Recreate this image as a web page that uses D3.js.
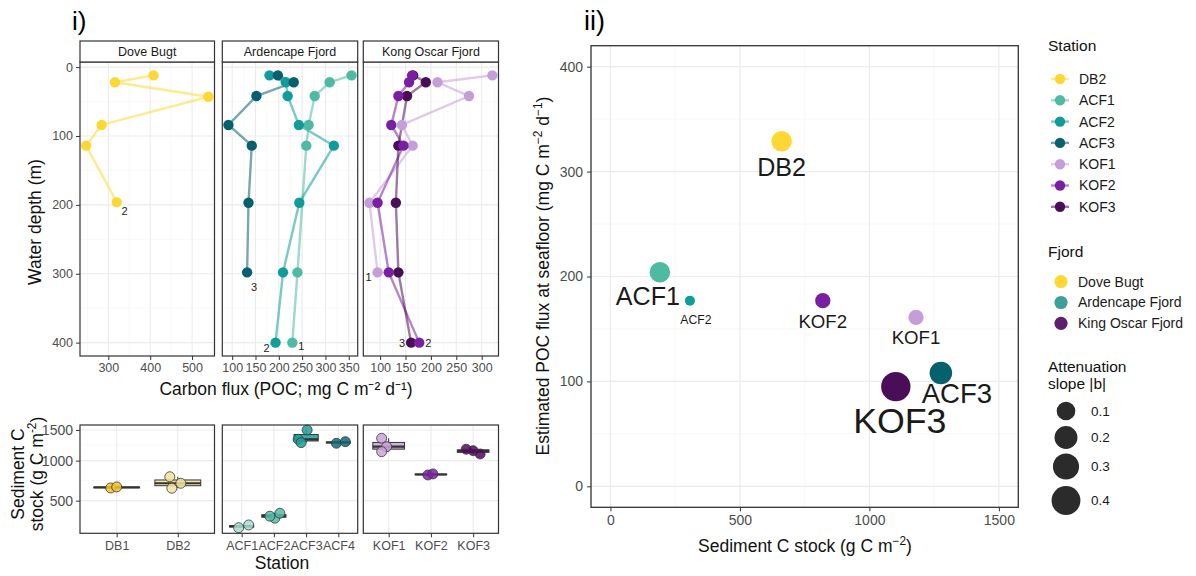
<!DOCTYPE html>
<html>
<head>
<meta charset="utf-8">
<style>
  body { margin: 0; background: #fff; }
  svg { font-family: "Liberation Sans", Arial, sans-serif; }
</style>
</head>
<body>
<script src="https://cdn.jsdelivr.net/npm/d3@7"></script>
<script>

// ---------- data: i) top, POC flux profiles ----------
var fjords = ["Dove Bugt", "Ardencape Fjord", "Kong Oscar Fjord"];
var profileStations = ["DB2", "ACF1", "ACF2", "ACF3", "KOF1", "KOF2", "KOF3"];
var profileFjord = [0, 1, 1, 1, 2, 2, 2];
var profileEnd = ["2", "1", "2", "3", "1", "2", "3"];

var depthDB2 = [12, 22, 43, 84, 114, 196];
var fluxDB2  = [408, 316, 539, 284, 247, 320];
var depthACF1 = [12, 22, 42, 84, 114, 298, 400];
var fluxACF1  = [356, 309, 277, 264, 259, 240, 229];
var depthACF2 = [12, 22, 42, 84, 114, 197, 298, 400];
var fluxACF2  = [180, 215, 219, 243, 318, 244, 209, 193];
var depthACF3 = [12, 22, 42, 84, 114, 197, 298];
var fluxACF3  = [198, 232, 152, 92, 142, 135, 132];
var depthKOF1 = [12, 22, 42, 84, 114, 197, 298];
var fluxKOF1  = [321, 213, 275, 143, 164, 79, 95];
var depthKOF2 = [12, 22, 42, 84, 114, 197, 298, 400];
var fluxKOF2  = [163, 157, 136, 122, 146, 95, 117, 177];
var depthKOF3 = [12, 22, 42, 114, 197, 298, 400];
var fluxKOF3  = [165, 190, 153, 136, 131, 136, 161];

var profileDepth = {DB2: depthDB2, ACF1: depthACF1, ACF2: depthACF2, ACF3: depthACF3, KOF1: depthKOF1, KOF2: depthKOF2, KOF3: depthKOF3};
var profileFlux  = {DB2: fluxDB2, ACF1: fluxACF1, ACF2: fluxACF2, ACF3: fluxACF3, KOF1: fluxKOF1, KOF2: fluxKOF2, KOF3: fluxKOF3};

var depthTicks = [0, 100, 200, 300, 400];
var fluxTicks = [[300, 400, 500], [100, 150, 200, 250, 300, 350], [100, 150, 200, 250, 300]];

// ---------- data: i) bottom, sediment C stock ----------
var sedStations = [["DB1", "DB2"], ["ACF1", "ACF2", "ACF3", "ACF4"], ["KOF1", "KOF2", "KOF3"]];
var sedDB1 = [640, 652];
var sedDB2 = [778, 637, 696];
var sedACF1 = [259, 280];
var sedACF2 = [335, 352, 378];
var sedACF3 = [1500, 1337, 1281];
var sedACF4 = [1271, 1297];
var sedKOF1 = [1354, 1215, 1136];
var sedKOF2 = [801, 815];
var sedKOF3 = [1174, 1151, 1100];
var sedValues = {DB1: sedDB1, DB2: sedDB2, ACF1: sedACF1, ACF2: sedACF2, ACF3: sedACF3, ACF4: sedACF4, KOF1: sedKOF1, KOF2: sedKOF2, KOF3: sedKOF3};
var sedTicks = [500, 1000, 1500];

// ---------- data: ii) scatter ----------
var scatterStation = ["DB2", "ACF1", "ACF2", "ACF3", "KOF1", "KOF2", "KOF3"];
var sedStock     = [661, 191, 307, 1276, 1180, 820, 1102];
var seafloorFlux = [329, 204, 177, 108, 161, 177, 95];
var slopeB       = [0.14, 0.14, 0.02, 0.19, 0.05, 0.05, 0.42];
var stockTicks = [0, 500, 1000, 1500];
var seaFluxTicks = [0, 100, 200, 300, 400];
var slopeLegend = [0.1, 0.2, 0.3, 0.4];

// ---------- styles / layout ----------
var colors = {
  DB2: "#fdd835", ACF1: "#4dbba2", ACF2: "#0f9c9a", ACF3: "#07606d",
  KOF1: "#c59ed9", KOF2: "#7b1fa2", KOF3: "#4a0d57"
};
var sedColors = {
  DB1: "#f0c22a", DB2: "#f1e09c", ACF1: "#a9dcd0", ACF2: "#52bca6", ACF3: "#1d9d9a",
  ACF4: "#0f6c76", KOF1: "#c8a3d9", KOF2: "#7c22a3", KOF3: "#4d0b58"
};
var fjordColors = ["#fdd835", "#3d9f9a", "#5b2170"];
// point drawing order in the profile panels
var pointOrder = ["DB2", "ACF1", "ACF2", "ACF3", "KOF1", "KOF3", "KOF2"];
// horizontal jitter of core points (px) and station-number offsets (px)
var jitter = {DB1: [-6, 0], DB2: [-8, -6, 3], ACF1: [-3, 7], ACF2: [1, -4, 6], ACF3: [1, -8, -5],
  ACF4: [-2, 7], KOF1: [-7, -2, -7], KOF2: [-3, 2], KOF3: [-7, 0, 7]};
var endOffset = {DB2: [8, 9], ACF1: [9, 4], ACF2: [-9, 6], ACF3: [7, 15], KOF1: [-9, 5], KOF2: [9, 1], KOF3: [-9, 1]};
var repel = {DB2: [0, 0], ACF1: [-12, -2], ACF2: [6, 3], ACF3: [16, -8], KOF1: [0, -1], KOF2: [0, 0], KOF3: [4, -1]};

var tickCol = "#4d4d4d", frameCol = "#333333", gridMaj = "#ebebeb", gridMin = "#f5f5f5";

var svg = d3.select("body").append("svg")
    .attr("width", 1196)
    .attr("height", 576);

function richText(t, parts, fs) {
  var cur = 0;
  parts.forEach(function(p) {
    var target = p[1] ? -0.42 * fs : 0;
    t.append("tspan")
      .attr("dy", target - cur)
      .style("font-size", p[1] ? (fs * 0.68) + "px" : null)
      .text(p[0]);
    cur = target;
  });
}

function minorOf(ticks, domain) {
  var step = ticks[1] - ticks[0], out = [];
  ticks.forEach(function(t) { out.push(t - step / 2); });
  out.push(ticks[ticks.length - 1] + step / 2);
  return out.filter(function(v) { return v > domain[0] && v < domain[1]; });
}

function styleAxis(a, fs) {
  a.select(".domain").remove();
  a.selectAll(".tick line").attr("stroke", frameCol);
  a.selectAll(".tick text").attr("fill", tickCol).style("font-size", fs + "px").style("font-family", "inherit");
}

// ---------- panel tags ----------
svg.append("text").attr("x", 72).attr("y", 30).style("font-size", "26px").text("i)");
svg.append("text").attr("x", 584).attr("y", 30).style("font-size", "27px").text("ii)");

// ---------- i) top profiles ----------
var panelX = [[80, 214.5], [222.3, 357.7], [363.3, 498.5]];
var topY0 = 62, topY1 = 356, stripTop = 41;

var allDepth = d3.merge(profileStations.map(function(s) { return profileDepth[s]; }));
var dExt = d3.extent(allDepth), dPad = (dExt[1] - dExt[0]) * 0.05;
var yDepth = d3.scaleLinear().domain([dExt[0] - dPad, dExt[1] + dPad]).range([topY0, topY1]);

fjords.forEach(function(fj, fi) {
  var stations = profileStations.filter(function(s, i) { return profileFjord[i] === fi; });
  var fl = d3.merge(stations.map(function(s) { return profileFlux[s]; }));
  var ext = d3.extent(fl), pad = (ext[1] - ext[0]) * 0.05;
  var x = d3.scaleLinear().domain([ext[0] - pad, ext[1] + pad]).range(panelX[fi]);
  var x0 = panelX[fi][0], x1 = panelX[fi][1];
  var g = svg.append("g");

  // grid
  g.selectAll(".vmin").data(minorOf(fluxTicks[fi], x.domain())).enter().append("line")
    .attr("x1", function(d) { return x(d); }).attr("x2", function(d) { return x(d); })
    .attr("y1", topY0).attr("y2", topY1).attr("stroke", gridMin).attr("stroke-width", 0.6);
  g.selectAll(".hmin").data(minorOf(depthTicks, yDepth.domain())).enter().append("line")
    .attr("x1", x0).attr("x2", x1)
    .attr("y1", function(d) { return yDepth(d); }).attr("y2", function(d) { return yDepth(d); })
    .attr("stroke", gridMin).attr("stroke-width", 0.6);
  g.selectAll(".vmaj").data(fluxTicks[fi]).enter().append("line")
    .attr("x1", function(d) { return x(d); }).attr("x2", function(d) { return x(d); })
    .attr("y1", topY0).attr("y2", topY1).attr("stroke", gridMaj).attr("stroke-width", 1.1);
  g.selectAll(".hmaj").data(depthTicks).enter().append("line")
    .attr("x1", x0).attr("x2", x1)
    .attr("y1", function(d) { return yDepth(d); }).attr("y2", function(d) { return yDepth(d); })
    .attr("stroke", gridMaj).attr("stroke-width", 1.1);

  var line = d3.line().x(function(d) { return x(d[1]); }).y(function(d) { return yDepth(d[0]); });
  function pointsOf(s) {
    return profileDepth[s].map(function(d, i) { return [d, profileFlux[s][i]]; });
  }

  stations.forEach(function(s) {
    g.append("path").datum(pointsOf(s)).attr("d", line).attr("fill", "none")
      .attr("stroke", colors[s]).attr("stroke-opacity", 0.55).attr("stroke-width", 2.4);
  });
  pointOrder.filter(function(s) { return stations.indexOf(s) >= 0; }).forEach(function(s) {
    var pts = pointsOf(s);
    g.selectAll(null).data(pts).enter().append("circle")
      .attr("cx", function(d) { return x(d[1]); })
      .attr("cy", function(d) { return yDepth(d[0]); })
      .attr("r", 5.2).attr("fill", colors[s]);
    var last = pts[pts.length - 1];
    var off = endOffset[s];
    g.append("text")
      .attr("x", x(last[1]) + off[0]).attr("y", yDepth(last[0]) + off[1])
      .attr("text-anchor", "middle").attr("dy", "0.35em")
      .style("font-size", "11px").attr("fill", "#222")
      .text(profileEnd[profileStations.indexOf(s)]);
  });

  // frame + strip
  g.append("rect").attr("x", x0).attr("y", topY0).attr("width", x1 - x0).attr("height", topY1 - topY0)
    .attr("fill", "none").attr("stroke", frameCol).attr("stroke-width", 1.2);
  g.append("rect").attr("x", x0).attr("y", stripTop).attr("width", x1 - x0).attr("height", topY0 - stripTop)
    .attr("fill", "#fff").attr("stroke", frameCol).attr("stroke-width", 1.2);
  g.append("text").attr("x", (x0 + x1) / 2).attr("y", (stripTop + topY0) / 2).attr("dy", "0.35em")
    .attr("text-anchor", "middle").style("font-size", "12.5px").attr("fill", "#1a1a1a").text(fj);

  var ax = g.append("g").attr("transform", "translate(0," + topY1 + ")")
    .call(d3.axisBottom(x).tickValues(fluxTicks[fi]).tickSize(4).tickPadding(3));
  styleAxis(ax, 12.5);

  if (fi === 0) {
    var ay = g.append("g").attr("transform", "translate(" + x0 + ",0)")
      .call(d3.axisLeft(yDepth).tickValues(depthTicks).tickSize(4).tickPadding(3));
    styleAxis(ay, 12.5);
  }
});

svg.append("text").attr("text-anchor", "middle")
  .attr("transform", "translate(41,222)rotate(-90)")
  .style("font-size", "17.5px").attr("fill", "#111").text("Water depth (m)");
svg.append("text").attr("text-anchor", "middle").attr("x", 286).attr("y", 395)
  .style("font-size", "17.5px").attr("fill", "#111").text("Carbon flux (POC; mg C m\u207B\u00B2 d\u207B\u00B9)");

// ---------- i) bottom sediment stock ----------
var botY0 = 425, botY1 = 533.3;
var ySed = d3.scaleSqrt().domain([219, 1590]).range([botY1, botY0]);

sedStations.forEach(function(cats, fi) {
  var x0 = panelX[fi][0], x1 = panelX[fi][1];
  var xb = d3.scalePoint().domain(cats).range([x0, x1]).padding(0.6);
  var bw = xb.step() * 0.75;
  var g = svg.append("g");

  // grid (minor at sqrt-space midpoints)
  var sMin = [];
  for (var i = 0; i < sedTicks.length - 1; i++) {
    var m = (Math.sqrt(sedTicks[i]) + Math.sqrt(sedTicks[i + 1])) / 2;
    sMin.push(m * m);
  }
  g.selectAll(".hmin").data(sMin).enter().append("line")
    .attr("x1", x0).attr("x2", x1)
    .attr("y1", function(d) { return ySed(d); }).attr("y2", function(d) { return ySed(d); })
    .attr("stroke", gridMin).attr("stroke-width", 0.6);
  g.selectAll(".hmaj").data(sedTicks).enter().append("line")
    .attr("x1", x0).attr("x2", x1)
    .attr("y1", function(d) { return ySed(d); }).attr("y2", function(d) { return ySed(d); })
    .attr("stroke", gridMaj).attr("stroke-width", 1.1);
  g.selectAll(".vmaj").data(cats).enter().append("line")
    .attr("x1", function(d) { return xb(d); }).attr("x2", function(d) { return xb(d); })
    .attr("y1", botY0).attr("y2", botY1).attr("stroke", gridMaj).attr("stroke-width", 1.1);

  cats.forEach(function(s) {
    var v = sedValues[s].slice().sort(d3.ascending);
    var q1 = d3.quantile(v, 0.25), med = d3.quantile(v, 0.5), q3 = d3.quantile(v, 0.75);
    var iqr = q3 - q1;
    var lo = d3.min(v.filter(function(d) { return d >= q1 - 1.5 * iqr; }));
    var hi = d3.max(v.filter(function(d) { return d <= q3 + 1.5 * iqr; }));
    var cx = xb(s);
    g.append("line").attr("x1", cx).attr("x2", cx).attr("y1", ySed(lo)).attr("y2", ySed(q1))
      .attr("stroke", frameCol).attr("stroke-width", 1);
    g.append("line").attr("x1", cx).attr("x2", cx).attr("y1", ySed(q3)).attr("y2", ySed(hi))
      .attr("stroke", frameCol).attr("stroke-width", 1);
    g.append("rect").attr("x", cx - bw / 2).attr("width", bw)
      .attr("y", ySed(q3)).attr("height", Math.max(ySed(q1) - ySed(q3), 0.5))
      .attr("fill", sedColors[s]).attr("fill-opacity", 0.85)
      .attr("stroke", frameCol).attr("stroke-width", 1);
    g.append("line").attr("x1", cx - bw / 2).attr("x2", cx + bw / 2)
      .attr("y1", ySed(med)).attr("y2", ySed(med))
      .attr("stroke", frameCol).attr("stroke-width", 2.2);
    g.selectAll(null).data(sedValues[s]).enter().append("circle")
      .attr("cx", function(d, i) { return cx + jitter[s][i]; })
      .attr("cy", function(d) { return ySed(d); })
      .attr("r", 5).attr("fill", sedColors[s]).attr("fill-opacity", 0.85)
      .attr("stroke", "#3a3a3a").attr("stroke-width", 0.8);
  });

  g.append("rect").attr("x", x0).attr("y", botY0).attr("width", x1 - x0).attr("height", botY1 - botY0)
    .attr("fill", "none").attr("stroke", frameCol).attr("stroke-width", 1.2);

  var ax = g.append("g").attr("transform", "translate(0," + botY1 + ")")
    .call(d3.axisBottom(xb).tickSize(4).tickPadding(4));
  styleAxis(ax, 12.5);

  if (fi === 0) {
    var ay = g.append("g").attr("transform", "translate(" + x0 + ",0)")
      .call(d3.axisLeft(ySed).tickValues(sedTicks).tickFormat(d3.format("d")).tickSize(4).tickPadding(3));
    styleAxis(ay, 14);
  }
});

var sedTitle = svg.append("g").attr("transform", "translate(0,474)");
sedTitle.append("text").attr("text-anchor", "middle").attr("transform", "translate(24,0)rotate(-90)")
  .style("font-size", "17.5px").attr("fill", "#111").text("Sediment C");
richText(sedTitle.append("text").attr("text-anchor", "middle").attr("transform", "translate(43,0)rotate(-90)")
  .style("font-size", "17.5px").attr("fill", "#111"),
  [["stock (g C m", 0], ["-2", 1], [")", 0]], 17.5);
svg.append("text").attr("text-anchor", "middle").attr("x", 282).attr("y", 569)
  .style("font-size", "17.5px").attr("fill", "#111").text("Station");

// ---------- ii) scatter ----------
var sx0 = 591, sx1 = 1018.3, sy0 = 45.7, sy1 = 507.3;
var xs = d3.scaleLinear().domain([-75, 1575]).range([sx0, sx1]);
var ys = d3.scaleLinear().domain([-20, 420]).range([sy1, sy0]);
var bExt = d3.extent(slopeB);
var size = d3.scaleSqrt().domain([0, bExt[1] - bExt[0]]).range([10, 29.3]);   // diameter
function diam(b) { return size(Math.max(b - bExt[0], 0)); }

var gs = svg.append("g");
gs.selectAll(".vmin").data(minorOf(stockTicks, xs.domain())).enter().append("line")
  .attr("x1", function(d) { return xs(d); }).attr("x2", function(d) { return xs(d); })
  .attr("y1", sy0).attr("y2", sy1).attr("stroke", gridMin).attr("stroke-width", 0.7);
gs.selectAll(".hmin").data(minorOf(seaFluxTicks, ys.domain())).enter().append("line")
  .attr("x1", sx0).attr("x2", sx1)
  .attr("y1", function(d) { return ys(d); }).attr("y2", function(d) { return ys(d); })
  .attr("stroke", gridMin).attr("stroke-width", 0.7);
gs.selectAll(".vmaj").data(stockTicks).enter().append("line")
  .attr("x1", function(d) { return xs(d); }).attr("x2", function(d) { return xs(d); })
  .attr("y1", sy0).attr("y2", sy1).attr("stroke", gridMaj).attr("stroke-width", 1.2);
gs.selectAll(".hmaj").data(seaFluxTicks).enter().append("line")
  .attr("x1", sx0).attr("x2", sx1)
  .attr("y1", function(d) { return ys(d); }).attr("y2", function(d) { return ys(d); })
  .attr("stroke", gridMaj).attr("stroke-width", 1.2);

scatterStation.forEach(function(s, i) {
  gs.append("circle").attr("cx", xs(sedStock[i])).attr("cy", ys(seafloorFlux[i]))
    .attr("r", diam(slopeB[i]) / 2).attr("fill", colors[s]);
});
scatterStation.forEach(function(s, i) {
  var cx = xs(sedStock[i]), cy = ys(seafloorFlux[i]), d = diam(slopeB[i]);
  var fs = d * 1.22;
  gs.append("text").attr("text-anchor", "middle")
    .attr("x", cx + repel[s][0])
    .attr("y", cy + d / 2 + 6 + fs * 0.75 + repel[s][1])
    .style("font-size", fs + "px").attr("fill", "#1a1a1a").text(s);
});

gs.append("rect").attr("x", sx0).attr("y", sy0).attr("width", sx1 - sx0).attr("height", sy1 - sy0)
  .attr("fill", "none").attr("stroke", frameCol).attr("stroke-width", 1.3);

var axs = gs.append("g").attr("transform", "translate(0," + sy1 + ")")
  .call(d3.axisBottom(xs).tickValues(stockTicks).tickFormat(d3.format("d")).tickSize(4).tickPadding(4));
styleAxis(axs, 14);
var ays = gs.append("g").attr("transform", "translate(" + sx0 + ",0)")
  .call(d3.axisLeft(ys).tickValues(seaFluxTicks).tickFormat(d3.format("d")).tickSize(4).tickPadding(4));
styleAxis(ays, 14);

richText(svg.append("text").attr("text-anchor", "middle").attr("x", 805).attr("y", 552)
  .style("font-size", "17.5px").attr("fill", "#111"),
  [["Sediment C stock (g C m", 0], ["\u22122", 1], [")", 0]], 17.5);
richText(svg.append("text").attr("text-anchor", "middle").attr("transform", "translate(549,276)rotate(-90)")
  .style("font-size", "17.5px").attr("fill", "#111"),
  [["Estimated POC flux at seafloor (mg C m", 0], ["\u22122", 1], [" d", 0], ["\u22121", 1], [")", 0]], 17.5);

// ---------- legends ----------
var lg = svg.append("g");
lg.append("text").attr("x", 1048).attr("y", 51).style("font-size", "15.5px").attr("fill", "#111").text("Station");
profileStations.forEach(function(s, i) {
  var y = 79 + i * 21.3;
  lg.append("line").attr("x1", 1051).attr("x2", 1069).attr("y1", y).attr("y2", y)
    .attr("stroke", colors[s]).attr("stroke-opacity", 0.55).attr("stroke-width", 2.4);
  lg.append("circle").attr("cx", 1060).attr("cy", y).attr("r", 5.2).attr("fill", colors[s]);
  lg.append("text").attr("x", 1079).attr("y", y).attr("dy", "0.35em")
    .style("font-size", "14px").attr("fill", "#1a1a1a").text(s);
});

var fjordLabels = ["Dove Bugt", "Ardencape Fjord", "King Oscar Fjord"];
lg.append("text").attr("x", 1048).attr("y", 257).style("font-size", "15.5px").attr("fill", "#111").text("Fjord");
fjordLabels.forEach(function(f, i) {
  var y = 281.7 + i * 20.8;
  lg.append("circle").attr("cx", 1061).attr("cy", y).attr("r", 6.6).attr("fill", fjordColors[i]);
  lg.append("text").attr("x", 1078).attr("y", y).attr("dy", "0.35em")
    .style("font-size", "14px").attr("fill", "#1a1a1a").text(f);
});

lg.append("text").attr("x", 1048).attr("y", 372).style("font-size", "15.5px").attr("fill", "#111").text("Attenuation");
lg.append("text").attr("x", 1048).attr("y", 389).style("font-size", "15.5px").attr("fill", "#111").text("slope |b|");
var slopeY = [411, 437.5, 466.5, 500.5];
slopeLegend.forEach(function(b, i) {
  lg.append("circle").attr("cx", 1066).attr("cy", slopeY[i]).attr("r", diam(b) / 2).attr("fill", "#2b2b2b");
  lg.append("text").attr("x", 1091).attr("y", slopeY[i]).attr("dy", "0.35em")
    .style("font-size", "13.5px").attr("fill", "#1a1a1a").text(b.toFixed(1));
});

</script>
</body>
</html>
